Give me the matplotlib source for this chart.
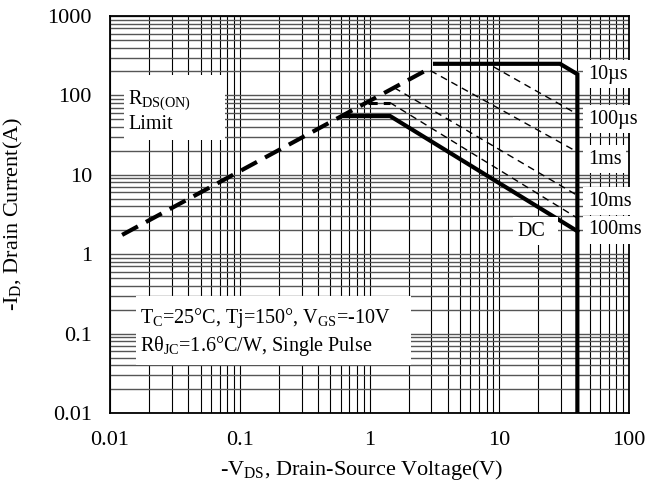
import matplotlib
matplotlib.use("Agg")
import matplotlib.pyplot as plt
from matplotlib.ticker import LogLocator, NullFormatter, FixedLocator
from matplotlib.patches import Rectangle

plt.rcParams['font.family'] = ['Liberation Serif', 'DejaVu Serif']
plt.rcParams['mathtext.fontset'] = 'custom'
plt.rcParams['mathtext.rm'] = 'Liberation Serif'
plt.rcParams['mathtext.it'] = 'Liberation Serif:italic'

# ---- data ----
x_ticks = [0.01, 0.1, 1, 10, 100]
x_tick_labels = ["0.01", "0.1", "1", "10", "100"]
y_ticks = [0.01, 0.1, 1, 10, 100, 1000]
y_tick_labels = ["0.01", "0.1", "1", "10", "100", "1000"]

rds_v = [0.0124, 3.0]
rds_i = [1.75, 225]

us10_v = [3.2, 29.4, 40, 40]
us10_i = [250, 250, 185, 0.01]

us100_v = [9.0, 40]
us100_i = [230, 58]

ms1_v = [2.95, 40]
ms1_i = [205, 19.4]

ms10_v = [1.55, 40]
ms10_i = [125, 5.5]

ms100_v = [0.97, 1.44, 40]
ms100_i = [81, 81, 2.85]

dc_v = [0.63, 1.44, 40]
dc_i = [55, 55, 1.95]

pulse_labels = ["10µs", "100µs", "1ms", "10ms", "100ms"]

# ---- figure ----
W, H = 646, 486
fig = plt.figure(figsize=(W / 100, H / 100), dpi=100)
L, R, T, B = 110, 629, 16, 413
ax = fig.add_axes([L / W, 1 - B / H, (R - L) / W, (B - T) / H])

def fx(px):
    return px / W

def fy(py):
    return 1 - py / H

ax.set_xscale('log')
ax.set_yscale('log')
ax.set_xlim(0.01, 100)
ax.set_ylim(0.01, 1000)

ax.xaxis.set_major_locator(FixedLocator(x_ticks))
ax.set_xticklabels(x_tick_labels)
ax.yaxis.set_major_locator(FixedLocator(y_ticks))
ax.set_yticklabels(y_tick_labels)
ax.xaxis.set_minor_locator(LogLocator(base=10, subs=range(2, 10), numticks=20))
ax.yaxis.set_minor_locator(LogLocator(base=10, subs=range(2, 10), numticks=20))
ax.xaxis.set_minor_formatter(NullFormatter())
ax.yaxis.set_minor_formatter(NullFormatter())

ax.tick_params(which='both', length=0, labelsize=16)
ax.tick_params(axis='y', pad=13)
ax.tick_params(axis='x', pad=13)

ax.grid(True, which='both', axis='x', color='black', lw=0.8, zorder=0)
ax.grid(True, which='both', axis='y', color='#555555', lw=1.0, zorder=0)
ax.set_axisbelow(True)
for s in ax.spines.values():
    s.set_linewidth(1.3)
    s.set_color('black')

# ---- curves ----
ax.plot(rds_v, rds_i, color='black', lw=3.0, ls=(0, (4.3, 2.2)), zorder=3)
ax.plot(us10_v, us10_i, color='black', lw=3.0, solid_joinstyle='miter', zorder=3)
ax.plot(dc_v, dc_i, color='black', lw=3.0, solid_joinstyle='miter', zorder=3)
thin = dict(color='black', lw=1.0, ls=(0, (5, 3.6)), zorder=3)
ax.plot(us100_v, us100_i, **thin)
ax.plot(ms1_v, ms1_i, **thin)
ax.plot(ms10_v, ms10_i, **thin)
ax.plot(ms100_v[:2], ms100_i[:2], color='black', lw=2.2, ls=(0, (3, 2)), zorder=3)
ax.plot(ms100_v[1:], ms100_i[1:], **thin)

# ---- labels ----
fig.text(fx(362), fy(470), "-$\\mathregular{V_{DS}}$, Drain-Source Voltage(V)",
         fontsize=16, ha='center', va='center')
fig.text(fx(13), fy(214), "-$\\mathregular{I_D}$, Drain Current(A)",
         fontsize=16, ha='center', va='center', rotation=90)

box = dict(facecolor='white', edgecolor='none', pad=3.5)
label_y = [74, 119, 159, 201, 230]
for lab, py in zip(pulse_labels, label_y):
    fig.text(fx(588), fy(py), lab, fontsize=14.5, ha='left', va='center',
             bbox=box, zorder=10)

# DC label box
ax.add_patch(Rectangle((fx(513), fy(245)), fx(558) - fx(513), fy(217) - fy(245),
                       transform=fig.transFigure, facecolor='white',
                       edgecolor='none', zorder=6, clip_on=False))
fig.text(fx(531), fy(231), "DC", fontsize=14.5, ha='center', va='center', zorder=10)

# R_DS(ON) Limit box
ax.add_patch(Rectangle((fx(124), fy(140)), fx(225) - fx(124), fy(75) - fy(140),
                       transform=fig.transFigure, facecolor='white',
                       edgecolor='none', zorder=6, clip_on=False))
fig.text(fx(128), fy(104), "$\\mathregular{R_{DS(ON)}}$", fontsize=14.5,
         ha='left', va='baseline', zorder=10)
fig.text(fx(128), fy(129), "Limit", fontsize=14.5, ha='left', va='baseline', zorder=10)

# conditions box
ax.add_patch(Rectangle((fx(136), fy(365)), fx(411) - fx(136), fy(296) - fy(365),
                       transform=fig.transFigure, facecolor='white',
                       edgecolor='none', zorder=6, clip_on=False))
fig.text(fx(140), fy(323), "$\\mathregular{T_C}$=25°C, Tj=150°, $\\mathregular{V_{GS}}$=-10V",
         fontsize=14.5, ha='left', va='baseline', zorder=10)
fig.text(fx(140), fy(351), "$\\mathregular{Rθ_{JC}}$=1.6°C/W, Single Pulse",
         fontsize=14.5, ha='left', va='baseline', zorder=10)

fig.savefig("out.png", dpi=100)
